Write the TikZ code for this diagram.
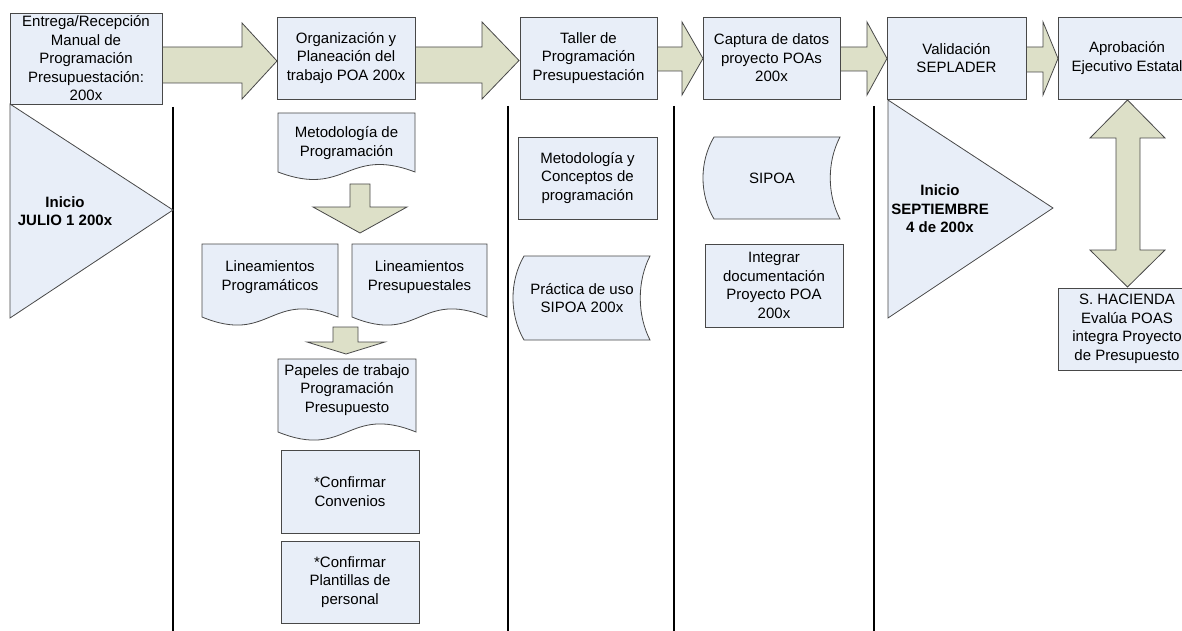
\documentclass[tikz,border=0pt]{standalone}
\usepackage{fontspec}
\setmainfont{Liberation Sans}
\usetikzlibrary{calc}
\definecolor{boxfill}{RGB}{232,238,248}
\definecolor{arrowfill}{RGB}{221,224,200}
\definecolor{edge}{RGB}{72,72,72}

% document symbol: left, top, right, y of the wavy bottom ends, wave strength
\newcommand\docsym[5]{%
  \draw[shp] (#1,#2) -- (#3,#2) -- (#3,#4)
    .. controls ({(#1+#3)/2},{#4-#5}) and ({(#1+#3)/2},{#4+#5}) .. (#1,#4) -- cycle;}
% stored-data symbol: left, top, right, bottom
\newcommand\storesym[4]{%
  \draw[shp] ({#1+11},#2) -- (#3,#2)
    .. controls ({#3-13},{#2+0.3*(#4-#2)}) and ({#3-13},{#2+0.7*(#4-#2)}) .. (#3,#4)
    -- ({#1+11},#4)
    .. controls ({#1-3.7},{#2+0.7*(#4-#2)}) and ({#1-3.7},{#2+0.3*(#4-#2)}) .. ({#1+11},#2) -- cycle;}
% right block arrow: x start, x head base, x tip, shaft top, shaft bottom, head top, head bottom
\newcommand\rblock[7]{%
  \draw[blk] (#1,#4) -- (#2,#4) -- (#2,#6) -- (#3,{(#6+#7)/2}) -- (#2,#7) -- (#2,#5) -- (#1,#5) -- cycle;}
% down block arrow: x shaft left, x shaft right, y start, y head base, head left, head right, y tip
\newcommand\dblock[7]{%
  \draw[blk] (#1,#3) -- (#2,#3) -- (#2,#4) -- (#6,#4) -- ({(#5+#6)/2},#7) -- (#5,#4) -- (#1,#4) -- cycle;}

\begin{document}
\begin{tikzpicture}[x=1pt,y=-1pt,
  txt/.style={font=\fontsize{15}{18.5}\selectfont, align=center, inner sep=0pt, text=black},
  btxt/.style={txt, font=\fontsize{15}{18.5}\selectfont\bfseries},
  shp/.style={draw=edge, fill=boxfill, line width=0.8pt},
  blk/.style={draw=edge, fill=arrowfill, line width=0.8pt, line join=miter},
  box/.style={txt, shp, minimum width=#1},
  box/.default=138,
  lane/.style={draw=black, line width=2pt}
]
\useasboundingbox (0,0) rectangle (1182,631);
\clip (0,0) rectangle (1182,631);

% lane separators
\draw[lane] (173,107) -- (173,631);
\draw[lane] (508,106) -- (508,631);
\draw[lane] (674,106) -- (674,631);
\draw[lane] (874,106) -- (874,631);

% block arrows between the main stages
\rblock{162}{242}{277}{47}{83}{23}{99}
\rblock{415}{482}{519}{47}{83}{22}{99}
\rblock{657}{682}{703}{47}{71}{22}{95}
\rblock{840}{867}{887}{47}{71}{22}{95}
\rblock{1026}{1043}{1058}{47}{72}{22}{95}

% main stages
\node[box=152, minimum height=91] (entrega) at (86,58.5)
  {Entrega/Recepción\\Manual de\\Programación\\Presupuestación:\\200x};
\node[box, minimum height=82] (organiza) at (346,58)
  {Organización y\\Planeación del\\trabajo POA 200x};
\node[box=137, minimum height=82] (taller) at (588.5,58)
  {Taller de\\Programación\\Presupuestación};
\node[box=137, minimum height=82] (captura) at (771.5,58)
  {Captura de datos\\proyecto POAs\\200x};
\node[box=139, minimum height=82] (valida) at (956.5,58)
  {Validación\\SEPLADER};
\node[box, minimum height=82] (aprueba) at (1127,58)
  {Aprobación\\Ejecutivo Estatal};

% start markers
\draw[shp] (10,104) -- (173,210) -- (10,318) -- cycle;
\node[btxt] (inicio1) at (65,211) {Inicio\\JULIO 1 200x};
\draw[shp] (888,100) -- (1053,208) -- (888,318) -- cycle;
\node[btxt] (inicio2) at (940,209) {Inicio\\SEPTIEMBRE\\4 de 200x};

% column: organisation and planning
\docsym{278}{113}{415}{172}{26}
\node[txt] (metprog) at (346.5,143) {Metodología de\\Programación};
\dblock{350}{370}{184}{207}{313}{407}{233}
\docsym{202}{244}{338}{317}{28}
\node[txt] (linprog) at (270,277) {Lineamientos\\Programáticos};
\docsym{352}{244}{487}{317}{28}
\node[txt] (linpres) at (419.5,277) {Lineamientos\\Presupuestales};
\dblock{333}{358}{327}{342}{307}{385}{354}
\docsym{278}{359}{416}{432}{28}
\node[txt] (papeles) at (347,390) {Papeles de trabajo\\Programación\\Presupuesto};
\node[box, minimum height=83] (convenios) at (350,491.5) {*Confirmar\\Convenios};
\node[box, minimum height=82] (plantillas) at (350,582) {*Confirmar\\Plantillas de\\personal};

% column: workshop
\node[box=139, minimum height=82] (conceptos) at (587.5,178)
  {Metodología y\\Conceptos de\\programación};
\storesym{513}{256}{650}{340}
\node[txt] (practica) at (582,298) {Práctica de uso\\SIPOA 200x};

% column: data capture
\storesym{703}{137}{840}{219}
\node[txt] (sipoa) at (772,178) {SIPOA};
\node[box, minimum height=83] (integrar) at (774,285.5)
  {Integrar\\documentación\\Proyecto POA\\200x};

% column: approval
\draw[blk] (1127.5,100) -- (1165,138) -- (1140,138) -- (1140,250) -- (1165,250)
  -- (1127.5,287) -- (1090,250) -- (1116,250) -- (1116,138) -- (1090,138) -- cycle;
\node[box, minimum height=82] (hacienda) at (1127,329)
  {S. HACIENDA\\Evalúa POAS\\integra Proyecto\\de Presupuesto};
\end{tikzpicture}
\end{document}
